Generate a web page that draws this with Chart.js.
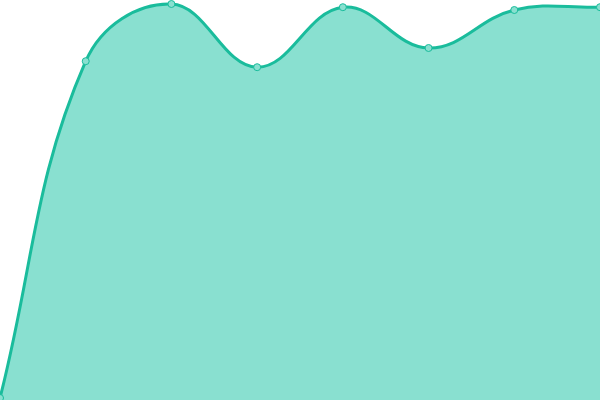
<!DOCTYPE html>
<html>
<head>
<meta charset="utf-8">
<script src="https://cdn.jsdelivr.net/npm/chart.js@4.4.0/dist/chart.umd.min.js"></script>
<style>
  html, body { margin: 0; padding: 0; background: #fff; }
  #wrap { width: 600px; height: 400px; }
</style>
</head>
<body>
<div id="wrap"><canvas id="myChart"></canvas></div>
<script>
const labels = ['1', '2', '3', '4', '5', '6', '7', '8'];
const values = [0.5, 84.7, 99, 83.2, 98.2, 88, 97.5, 98.2];

let ctx = document.getElementById("myChart");
let myChart = new Chart(ctx, {
    type: 'line',
    data: {
        labels: labels,
        datasets: [{
            data: values,
            borderColor: '#1abc9c',
            backgroundColor: '#89e0d0',
            pointBackgroundColor: '#89e0d0',
            pointBorderColor: '#1abc9c',
            pointRadius: 3.5,
            pointBorderWidth: 1,
            borderWidth: 3,
            tension: 0.4,
            fill: true,
            clip: false
        }]
    },
    options: {
        responsive: true,
        maintainAspectRatio: false,
        animation: false,
        layout: { padding: 0, autoPadding: false },
        plugins: {
            legend: { display: false },
            tooltip: { enabled: false }
        },
        scales: {
            x: { display: false },
            y: { display: false, min: 0, max: 100 }
        }
    }
});
</script>
</body>
</html>
